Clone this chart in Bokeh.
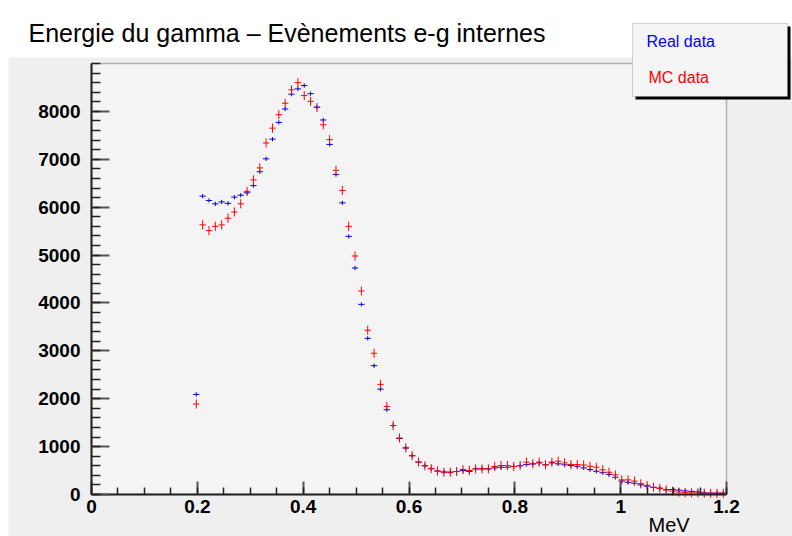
from bokeh.plotting import figure
from bokeh.models import Range1d, Label, BoxAnnotation, FixedTicker
from bokeh.embed import file_html
from bokeh.resources import INLINE

# ---- data -------------------------------------------------------------
bin_low = 0.192      # lower edge of first non-empty bin (MeV)
bin_width = 0.012    # 100 bins between 0 and 1.2 MeV

real_counts = [2090, 6230, 6140, 6070, 6110, 6080, 6210, 6250, 6300, 6450,
               6740, 7010, 7420, 7770, 8050, 8360, 8470, 8540, 8370, 8090,
               7820, 7310, 6680, 6090, 5390, 4730, 3970, 3260, 2690, 2200,
               1770, 1440, 1170, 970, 810, 680, 600, 540, 490, 470,
               465, 480, 500, 480, 535, 535, 535, 555, 570, 570,
               585, 600, 625, 640, 660, 620, 660, 640, 620, 605,
               590, 555, 520, 485, 455, 420, 360, 280, 255, 235,
               200, 175, 150, 130, 100, 105, 90, 75, 65, 55,
               35, 30, 30, 30]
mc_counts = [1890, 5630, 5510, 5600, 5630, 5770, 5900, 6070, 6330, 6570,
             6820, 7340, 7650, 7930, 8170, 8450, 8600, 8330, 8210, 8080,
             7720, 7410, 6770, 6350, 5600, 4980, 4250, 3430, 2950, 2300,
             1840, 1440, 1180, 975, 810, 675, 600, 540, 490, 465,
             465, 480, 520, 500, 535, 535, 535, 585, 605, 605,
             585, 605, 675, 640, 675, 620, 675, 695, 660, 625,
             625, 615, 590, 570, 515, 465, 410, 305, 305, 280,
             225, 190, 150, 130, 95, 70, 50, 40, 35, 35,
             30, 25, 25, 25]
real_err = 45
mc_err = 95

x_ticks = [0, 0.2, 0.4, 0.6, 0.8, 1, 1.2]
x_tick_labels = ["0", "0.2", "0.4", "0.6", "0.8", "1", "1.2"]
y_ticks = [0, 1000, 2000, 3000, 4000, 5000, 6000, 7000, 8000]
y_tick_labels = ["0", "1000", "2000", "3000", "4000", "5000", "6000", "7000", "8000"]
x_min, x_max = 0, 1.2
y_min, y_max = 0, 9000

title_text = "Energie du gamma \u2013 Ev\u00e8nements e-g internes"
legend_labels = ["Real data", "MC data"]
x_unit = "MeV"

# ---- layout (canvas pixels) -------------------------------------------
W, H = 792, 536
FL, FR, FT, FB = 91, 726, 63, 494   # plot-area edges on the canvas
FONT = "Liberation Sans"

kx = (FR - FL) / (x_max - x_min)
ky = (FB - FT) / (y_max - y_min)
x_range = Range1d(x_min - FL / kx, x_max + (W - FR) / kx)
y_range = Range1d(y_min - (H - FB) / ky, y_max + FT / ky)


def sx(X):
    return X


def sy(Y):
    return H - Y


def screen_box(l, r, t, b, **kw):
    return BoxAnnotation(left=sx(l), right=sx(r), top=sy(t), bottom=sy(b),
                         left_units="screen", right_units="screen",
                         top_units="screen", bottom_units="screen", **kw)


centers = [bin_low + bin_width * (i + 0.5) for i in range(len(real_counts))]
half = bin_width / 2

p = figure(width=W, height=H, output_backend="svg", toolbar_location=None,
           x_range=x_range, y_range=y_range,
           min_border_left=0, min_border_right=0,
           min_border_top=0, min_border_bottom=0)
p.title.visible = False
p.background_fill_color = "#efefef"
p.border_fill_color = "#efefef"
p.outline_line_color = None
p.xgrid.visible = False
p.ygrid.visible = False

# white page strips (top and left) and the plot area box
p.add_layout(screen_box(-5, W + 5, -5, 57, fill_color="white", fill_alpha=1,
                        line_color=None, level="underlay"))
p.add_layout(screen_box(-5, 8, -5, H + 5, fill_color="white", fill_alpha=1,
                        line_color=None, level="underlay"))
p.add_layout(BoxAnnotation(left=x_min, right=x_max, bottom=y_min, top=y_max,
                           fill_color="#f4f4f4", fill_alpha=1,
                           line_color="#222222", line_width=1.5, level="underlay"))

# ---- data marks -------------------------------------------------------
for counts, err, color in [(real_counts, real_err, "#0000dd"), (mc_counts, mc_err, "#ff0000")]:
    p.segment(x0=[c - half for c in centers], y0=counts,
              x1=[c + half for c in centers], y1=counts,
              line_color=color, line_width=1)
    p.segment(x0=centers, y0=[v - err for v in counts],
              x1=centers, y1=[v + err for v in counts],
              line_color=color, line_width=1)

# ---- axes -------------------------------------------------------------
p.xaxis.ticker = FixedTicker(ticks=x_ticks, minor_ticks=[i * 0.05 for i in range(25)])
p.yaxis.ticker = FixedTicker(ticks=y_ticks, minor_ticks=[i * 200 for i in range(46)])
p.xaxis.major_label_overrides = dict(zip(x_ticks, x_tick_labels))
p.yaxis.major_label_overrides = dict(zip(y_ticks, y_tick_labels))
p.xaxis.fixed_location = y_min
p.yaxis.fixed_location = x_min
p.xaxis.bounds = (x_min, x_max)
p.yaxis.bounds = (y_min, y_max)

for ax in (p.xaxis, p.yaxis):
    ax.axis_line_color = "#222222"
    ax.axis_line_width = 2
    ax.major_tick_out = 0
    ax.minor_tick_out = 0
    ax.major_tick_line_color = "#555555"
    ax.major_tick_line_width = 2
    ax.minor_tick_line_color = "#222222"
    ax.minor_tick_line_width = 1.5
    ax.major_label_text_font = FONT
    ax.major_label_text_font_style = "bold"
    ax.major_label_text_font_size = "19px"
    ax.major_label_text_color = "black"

p.xaxis.major_tick_in = 13
p.xaxis.minor_tick_in = 7
p.yaxis.major_tick_in = 18
p.yaxis.minor_tick_in = 9
p.xaxis.major_label_standoff = 5
p.yaxis.major_label_standoff = 11

# ---- texts ------------------------------------------------------------
p.add_layout(Label(x=sx(28), y=sy(32), x_units="screen", y_units="screen",
                   text=title_text, text_font=FONT, text_font_size="25px",
                   text_color="black", text_baseline="alphabetic"))

p.add_layout(Label(x=sx(648), y=sy(535), x_units="screen", y_units="screen",
                   text=x_unit, text_font=FONT, text_font_size="20px",
                   text_color="black", text_baseline="bottom"))

# legend box with shadow
p.add_layout(screen_box(635, 790, 26, 99, fill_color="black", fill_alpha=1,
                        line_color=None, level="overlay"))
p.add_layout(screen_box(632, 787, 23, 96, fill_color="#f5f5f5", fill_alpha=1,
                        line_color="#777777", line_width=1, level="overlay"))
p.add_layout(Label(x=sx(646), y=sy(41), x_units="screen", y_units="screen",
                   text=legend_labels[0], text_font=FONT, text_font_size="16px",
                   text_color="#0000ff", text_baseline="alphabetic", level="overlay"))
p.add_layout(Label(x=sx(648), y=sy(77), x_units="screen", y_units="screen",
                   text=legend_labels[1], text_font=FONT, text_font_size="16px",
                   text_color="#ff0000", text_baseline="alphabetic", level="overlay"))

open("out.html", "w").write(file_html(p, INLINE))
